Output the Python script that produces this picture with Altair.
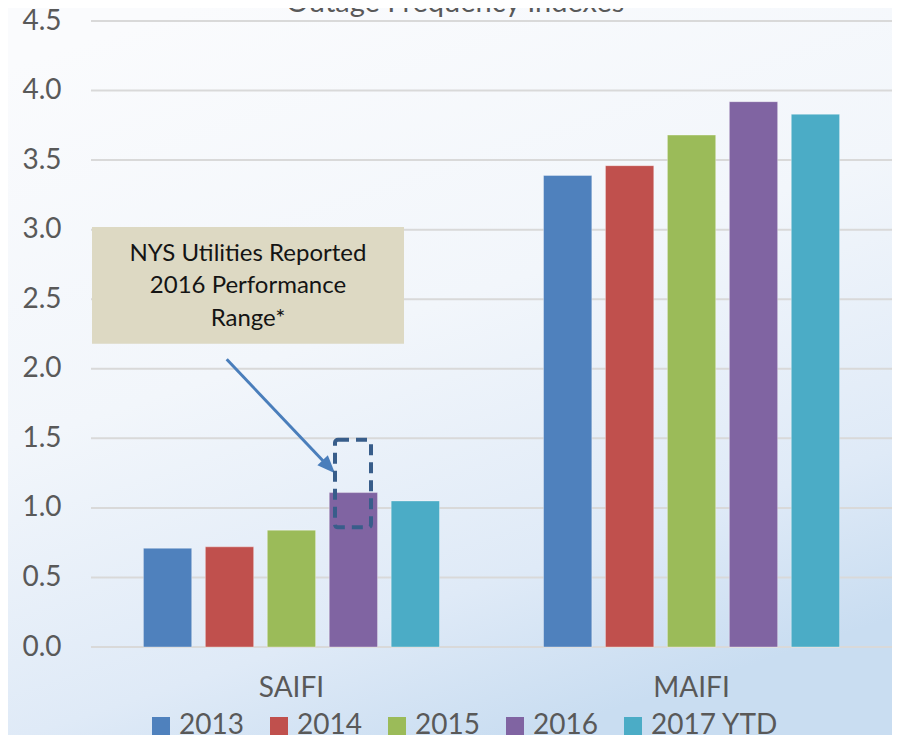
import altair as alt
import pandas as pd

# ---- data ----
categories = ["SAIFI", "MAIFI"]
years = ["2013", "2014", "2015", "2016", "2017 YTD"]
saifi = [0.71, 0.72, 0.84, 1.11, 1.05]
maifi = [3.39, 3.46, 3.68, 3.92, 3.83]
colors = ["#4f81bd", "#c0504d", "#9bbb59", "#8064a2", "#4bacc6"]
y_ticks = [0.0, 0.5, 1.0, 1.5, 2.0, 2.5, 3.0, 3.5, 4.0, 4.5]
nys_range = [0.86, 1.49]   # NYS utilities 2016 performance range (dashed box)
note_lines = "NYS Utilities Reported\n2016 Performance\nRange*"
title_text = "Outage Frequency Indexes"

W, H = 801, 626
FONT = "Lato"
GREY = "#595959"

rows = []
for cat, vals in zip(categories, [saifi, maifi]):
    for yr, v in zip(years, vals):
        rows.append({"index": cat, "year": yr, "value": v})
bars_df = pd.DataFrame(rows)
grid_df = pd.DataFrame({"v": y_ticks})
one = pd.DataFrame({"a": [0]})
range_df = pd.DataFrame({"lo": [nys_range[0]], "hi": [nys_range[1]]})
note_df = pd.DataFrame({"top": [3.02], "bottom": [2.18], "t": [note_lines]})

yscale = alt.Scale(domain=[0, 4.5], nice=False, zero=True)

bg = alt.Chart(one).mark_rect(
    color=alt.LinearGradient(
        gradient="linear",
        stops=[
            alt.GradientStop(color="#fafbfd", offset=0),
            alt.GradientStop(color="#f2f6fb", offset=0.45),
            alt.GradientStop(color="#dfeaf7", offset=0.8),
            alt.GradientStop(color="#c9ddf1", offset=1),
        ],
        x1=0.2, y1=0, x2=0.6, y2=1,
    )
).encode(x=alt.value(-83), x2=alt.value(W), y=alt.value(-13), y2=alt.value(H + 88))

grid = alt.Chart(grid_df).mark_rule(color="#d9d9d9", strokeWidth=2).encode(
    y=alt.Y("v:Q", scale=yscale)
)

bars = alt.Chart(bars_df).mark_bar(stroke="#ffffff", strokeOpacity=0.35, strokeWidth=1).encode(
    x=alt.X(
        "index:N",
        sort=categories,
        scale=alt.Scale(paddingInner=0.26, paddingOuter=0.131),
        axis=alt.Axis(
            title=None, labelAngle=0, domain=False, ticks=False, zindex=1,
            labelFont=FONT, labelFontSize=28, labelColor=GREY, labelPadding=27,
        ),
    ),
    xOffset=alt.XOffset("year:N", sort=years, scale=alt.Scale(paddingInner=0.22, paddingOuter=0)),
    y=alt.Y(
        "value:Q",
        scale=yscale,
        axis=alt.Axis(
            title=None, values=y_ticks, format=".1f", grid=False, domain=False, ticks=False,
            zindex=1,
            labelFont=FONT, labelFontSize=28, labelColor=GREY, labelPadding=30,
        ),
    ),
    color=alt.Color(
        "year:N",
        sort=years,
        scale=alt.Scale(domain=years, range=colors),
        legend=alt.Legend(
            title=None, orient="none", legendX=56, legendY=691, direction="horizontal",
            symbolType="square", symbolSize=324, symbolStrokeWidth=0, symbolOpacity=1,
            labelFont=FONT, labelFontSize=28, labelColor=GREY, labelOffset=4,
            columnPadding=21, padding=0, zindex=1,
        ),
    ),
)

note_box = alt.Chart(note_df).mark_rect(color="#ddd9c3").encode(
    x=alt.value(1), x2=alt.value(313),
    y=alt.Y("top:Q", scale=yscale), y2="bottom:Q",
)
note_text = alt.Chart(note_df).mark_text(
    font=FONT, fontSize=24, color="#141414", lineBreak="\n", lineHeight=32.3,
    align="center", baseline="middle",
).encode(x=alt.value(157), y=alt.value(233), text="t:N")

arrow_line = alt.Chart(one).mark_rule(color="#4a7ebb", strokeWidth=3).encode(
    x=alt.value(135.7), y=alt.value(338.3), x2=alt.value(236), y2=alt.value(444)
)
arrow_head = alt.Chart(one).mark_point(
    shape="M0,0L-2,-0.8L-2,0.8Z", filled=True, color="#4a7ebb", opacity=1,
    size=324, angle=46.5,
).encode(x=alt.value(244), y=alt.value(452.3))

dashed = alt.Chart(range_df).mark_rect(
    fillOpacity=0, stroke="#385d8a", strokeWidth=4, strokeDash=[11, 7], cornerRadius=3,
).encode(
    x=alt.value(244), x2=alt.value(280),
    y=alt.Y("hi:Q", scale=yscale), y2="lo:Q",
)

title = alt.Chart(one).mark_text(
    text=title_text, font=FONT, fontSize=29, color=GREY, align="center", baseline="alphabetic"
).encode(x=alt.value(364), y=alt.value(-9))

chart = alt.layer(
    bg, grid, bars, note_box, note_text, arrow_line, arrow_head, dashed, title
).properties(
    width=W, height=H,
    autosize=alt.AutoSizeParams(type="none"),
    padding={"left": 83, "top": 13, "right": 0, "bottom": 88},
).configure_view(stroke=None)

chart.save("out.html", embed_options={"renderer": "svg", "actions": False})
